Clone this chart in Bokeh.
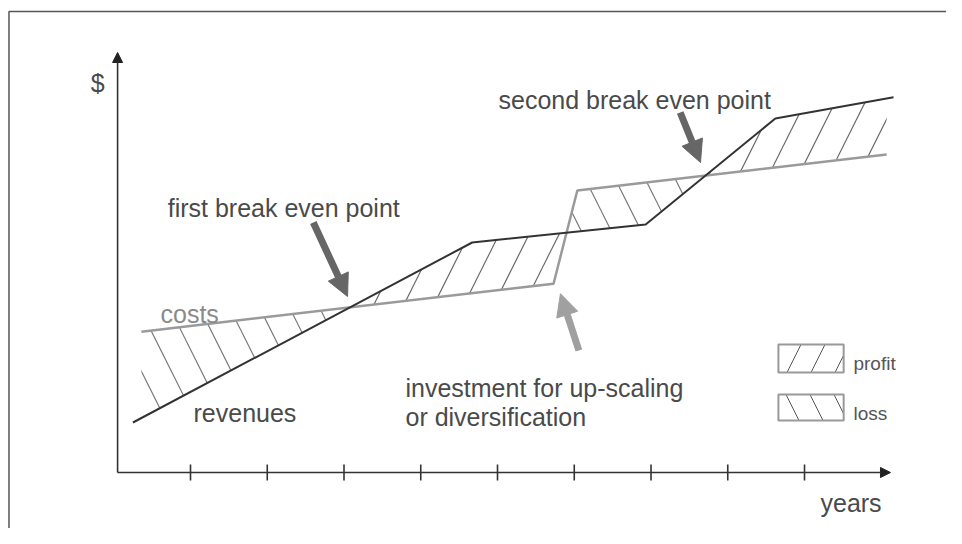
import numpy as np
from bokeh.plotting import figure
from bokeh.models import Range1d, Arrow, NormalHead, ColumnDataSource
from bokeh.core.properties import value
from bokeh.embed import file_html
from bokeh.resources import INLINE

# ---- data (years on x, money on y, arbitrary units) ----
rev_x = [0.25, 4.67, 6.93, 8.62, 10.16]
rev_y = [1.25, 5.75, 6.20, 8.85, 9.38]
cost_x = [0.36, 5.73, 6.04, 10.07]
cost_y = [3.52, 4.72, 7.05, 7.95]
year_ticks = [1, 2, 3, 4, 5, 6, 7, 8, 9]

FONT = value("Liberation Sans")

p = figure(width=946, height=528, output_backend="svg", toolbar_location=None,
           x_axis_type=None, y_axis_type=None, min_border=0,
           x_range=Range1d(-1.4756, 10.850), y_range=Range1d(-1.4, 11.8))
p.outline_line_color = None
p.background_fill_color = "white"
p.border_fill_color = "white"
p.grid.visible = False

# ---- frame border (left and top) ----
p.line(x=[-1.365, -1.365, 10.9], y=[-1.5, 11.525, 11.525], line_color="#555", line_width=1.5)

# ---- hatched regions between the two curves ----
x0 = max(rev_x[0], cost_x[0]); x1 = min(rev_x[-1], cost_x[-1])
xs = np.unique(np.array([x for x in rev_x + cost_x if x0 <= x <= x1] + [x0, x1]))
r = np.interp(xs, rev_x, rev_y); c = np.interp(xs, cost_x, cost_y)
gx, gr, gc = [xs[0]], [r[0]], [c[0]]
for i in range(1, len(xs)):
    d0 = r[i-1] - c[i-1]; d1 = r[i] - c[i]
    if d0 * d1 < 0:
        t = d0 / (d0 - d1)
        xi = xs[i-1] + t * (xs[i] - xs[i-1])
        yi = r[i-1] + t * (r[i] - r[i-1])
        gx.append(xi); gr.append(yi); gc.append(yi)
    gx.append(xs[i]); gr.append(r[i]); gc.append(c[i])
gx = np.array(gx); gr = np.array(gr); gc = np.array(gc)
src = ColumnDataSource(dict(x=gx, c=gc, r=gr, up=np.maximum(gr, gc)))
p.varea(x="x", y1="c", y2="up", source=src, fill_color=None,
        hatch_pattern="/", hatch_scale=60, hatch_weight=1.2, hatch_color="#666")
p.varea(x="x", y1="r", y2="up", source=src, fill_color=None,
        hatch_pattern="\\", hatch_scale=60, hatch_weight=1.2, hatch_color="#777")

# ---- lines ----
p.line(cost_x, cost_y, line_color="#9a9a9a", line_width=2.5)
p.line(rev_x, rev_y, line_color="#333333", line_width=2)

# ---- axes ----
p.add_layout(Arrow(x_start=0.05, y_start=0, x_end=0.05, y_end=10.5,
                   line_color="#333", line_width=1.6,
                   end=NormalHead(size=10, fill_color="#222", line_color="#222")))
p.add_layout(Arrow(x_start=0.05, y_start=0, x_end=10.12, y_end=0,
                   line_color="#333", line_width=1.6,
                   end=NormalHead(size=10, fill_color="#222", line_color="#222")))
p.segment(x0=year_ticks, y0=[-0.2]*len(year_ticks), x1=year_ticks, y1=[0.2]*len(year_ticks),
          line_color="#333", line_width=1.6)

# ---- pointer arrows ----
arrows = [((2.60, 6.25), (3.046, 4.40), "#666"),
          ((7.38, 9.00), (7.645, 7.75), "#666"),
          ((6.06, 3.05), (5.82, 4.47), "#a0a0a0")]
for (xs0, ys0), (xe, ye), col in arrows:
    p.add_layout(Arrow(x_start=xs0, y_start=ys0, x_end=xe, y_end=ye,
                       line_color=col, line_width=7,
                       end=NormalHead(size=22, fill_color=col, line_color=col)))

# ---- legend boxes ----
p.quad(left=[8.66], right=[9.51], top=[3.2], bottom=[2.5], fill_color=None,
       line_color="#999", line_width=2, hatch_pattern="/", hatch_scale=48,
       hatch_color="#555", hatch_weight=1)
p.quad(left=[8.66], right=[9.51], top=[1.95], bottom=[1.3], fill_color=None,
       line_color="#999", line_width=2, hatch_pattern="\\", hatch_scale=48,
       hatch_color="#555", hatch_weight=1)

# ---- texts ----
p.text(x=[0.703, 5.013, 3.801, 3.801, 1.039, -0.30, 9.208],
       y=[6.625, 9.325, 2.125, 1.40, 1.50, 9.75, -0.75],
       text=["first break even point", "second break even point",
             "investment for up-scaling", "or diversification", "revenues", "$", "years"],
       text_font=FONT, text_font_size="25px", text_color="#4a4a4a",
       text_align="left", text_baseline="alphabetic")
p.text(x=[0.609], y=[3.975], text=["costs"], text_font=FONT, text_font_size="25px",
       text_color="#8a8a8a", text_align="left", text_baseline="alphabetic")
p.text(x=[9.638, 9.638], y=[2.725, 1.475], text=["profit", "loss"], text_font=FONT,
       text_font_size="19px", text_color="#555", text_align="left", text_baseline="alphabetic")

open("out.html", "w").write(file_html(p, INLINE))
